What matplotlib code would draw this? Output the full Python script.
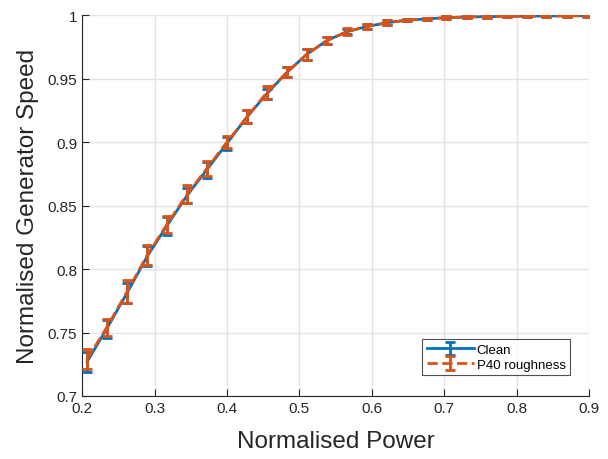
import matplotlib
matplotlib.use("Agg")
import matplotlib.pyplot as plt

# normalised power (x) for both datasets
power = [0.207, 0.234, 0.262, 0.290, 0.317, 0.345, 0.372, 0.400, 0.428,
         0.455, 0.483, 0.510, 0.538, 0.566, 0.593, 0.621, 0.648, 0.676,
         0.703, 0.731, 0.759, 0.786, 0.814, 0.841, 0.869, 0.897]

# normalised generator speed
clean = [0.727, 0.753, 0.781, 0.810, 0.834, 0.858, 0.878, 0.899, 0.920,
         0.938, 0.955, 0.969, 0.980, 0.987, 0.991, 0.994, 0.996, 0.997,
         0.998, 0.9985, 0.9988, 0.999, 0.9992, 0.9993, 0.9994, 0.9995]
p40 = [0.729, 0.754, 0.782, 0.811, 0.835, 0.859, 0.879, 0.900, 0.920,
       0.939, 0.955, 0.969, 0.980, 0.987, 0.991, 0.994, 0.996, 0.997,
       0.998, 0.9985, 0.9988, 0.999, 0.9992, 0.9993, 0.9994, 0.9995]

# error bar half-heights
clean_err = [0.008, 0.007, 0.008, 0.008, 0.007, 0.006, 0.006, 0.005, 0.005,
             0.004, 0.004, 0.004, 0.003, 0.002, 0.002, 0.002, 0.001, 0.001,
             0.001, 0.0008, 0.0008, 0.0008, 0.0008, 0.0008, 0.0008, 0.0008]
p40_err = [0.008, 0.007, 0.009, 0.008, 0.007, 0.007, 0.006, 0.005, 0.005,
           0.005, 0.004, 0.004, 0.003, 0.003, 0.002, 0.002, 0.001, 0.001,
           0.001, 0.0008, 0.0008, 0.0008, 0.0008, 0.0008, 0.0008, 0.0008]

plt.rcParams["font.family"] = ["Liberation Sans", "DejaVu Sans"]

fig = plt.figure(figsize=(6.08, 4.6), dpi=100)
ax = fig.add_axes([0.135, 0.137, 0.834, 0.828])

ax.errorbar(power, clean, yerr=clean_err, color="#0072BD", lw=2,
            elinewidth=2, capsize=3.5, capthick=2, label="Clean", zorder=3)
ax.errorbar(power, p40, yerr=p40_err, color="#D95319", lw=2, ls="--",
            elinewidth=2, capsize=3.5, capthick=2, label="P40 roughness",
            zorder=4)

ax.set_xlim(0.2, 0.9)
ax.set_ylim(0.7, 1.0)
ax.set_xticks([0.2, 0.3, 0.4, 0.5, 0.6, 0.7, 0.8, 0.9])
ax.set_xticklabels(["0.2", "0.3", "0.4", "0.5", "0.6", "0.7", "0.8", "0.9"])
ax.set_yticks([0.7, 0.75, 0.8, 0.85, 0.9, 0.95, 1.0])
ax.set_yticklabels(["0.7", "0.75", "0.8", "0.85", "0.9", "0.95", "1"])

ax.grid(True, color="#e3e3e3", lw=1)
ax.set_axisbelow(True)
ax.spines["top"].set_visible(False)
ax.spines["right"].set_visible(False)
for s in ["left", "bottom"]:
    ax.spines[s].set_color("#262626")
    ax.spines[s].set_linewidth(0.8)
ax.tick_params(direction="in", length=5, labelsize=11, colors="#262626")

ax.set_xlabel("Normalised Power", fontsize=17.5, color="#262626", labelpad=11)
ax.set_ylabel("Normalised Generator Speed", fontsize=17.5, color="#262626",
              labelpad=6)

leg = ax.legend(loc="lower right", fontsize=9.5, frameon=True, fancybox=False,
                edgecolor="#262626", handlelength=3.6, borderpad=0.35,
                labelspacing=0.2, handletextpad=0.2,
                bbox_to_anchor=(0.976, 0.037))
leg.get_frame().set_linewidth(0.8)

fig.savefig("out.png", dpi=100)
